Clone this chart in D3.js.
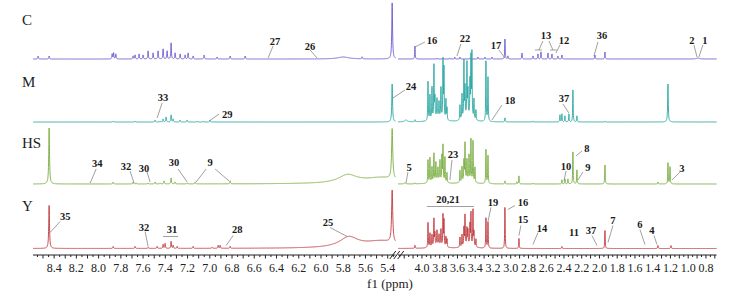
<!DOCTYPE html>
<html>
<head>
<meta charset="utf-8">
<script src="https://cdn.jsdelivr.net/npm/d3@7"></script>
<style>
  body { margin: 0; background: #fff; }
  svg { display: block; }
</style>
</head>
<body>
<div id="chart"></div>
<script>
// Tick labels (ppm) on both sides of the axis break.
const ticksLeft = [8.4, 8.2, 8.0, 7.8, 7.6, 7.4, 7.2, 7.0, 6.8, 6.6, 6.4, 6.2, 6.0, 5.8, 5.6, 5.4];
const ticksRight = [4.0, 3.8, 3.6, 3.4, 3.2, 3.0, 2.8, 2.6, 2.4, 2.2, 2.0, 1.8, 1.6, 1.4, 1.2, 1.0, 0.8];

const panelNames = ["C", "M", "HS", "Y"];
const panelColors = ["#6a5acd", "#2aa7a1", "#78ad3e", "#c0393d"];

// Peaks: [ppm, intensity, half width (ppm, optional)].
const cLeft = [[8.544, 3], [8.445, 3], [7.878, 5], [7.865, 6], [7.845, 5], [7.690, 3], [7.672, 4], [7.636, 5],
  [7.600, 4], [7.555, 8], [7.510, 6], [7.465, 8], [7.420, 10], [7.384, 8], [7.348, 16], [7.312, 6], [7.267, 5],
  [7.222, 4], [7.195, 6], [7.150, 3], [7.051, 4], [6.934, 2], [6.817, 3], [6.682, 3], [5.80, 2, 0.06],
  [5.63, 2], [5.36, 56, 0.004]];
const cRight = [[4.079, 13], [3.83, 1], [3.76, 1], [3.685, 1], [3.63, 2], [3.572, 2], [3.46, 1], [3.37, 2],
  [3.29, 2], [3.211, 2], [3.065, 20], [3.031, 3], [2.873, 6], [2.749, 3], [2.693, 5], [2.659, 7], [2.580, 6],
  [2.535, 5], [2.468, 3], [2.423, 4], [2.051, 4], [1.938, 7], [0.890, 1, 0.02]];

const mLeft = [[7.869, 1], [7.672, 1], [7.492, 2], [7.447, 1], [7.420, 3], [7.393, 5], [7.348, 7], [7.330, 3],
  [7.267, 2], [7.204, 2], [7.114, 1], [7.060, 1], [6.997, 2], [5.36, 38, 0.004]];
const mRight = [[4.18, 2, 0.015], [4.079, 2],
  [3.932, 39], [3.910, 25], [3.887, 32], [3.865, 53], [3.854, 20], [3.831, 18], [3.808, 15], [3.786, 30],
  [3.763, 58], [3.752, 50], [3.730, 20], [3.718, 12], [3.82, 5, 0.05],
  [3.572, 15], [3.549, 25], [3.527, 57], [3.515, 30], [3.493, 53], [3.482, 25], [3.459, 35], [3.448, 58],
  [3.437, 64], [3.414, 20], [3.392, 10], [3.48, 5, 0.05],
  [3.279, 60], [3.256, 44],
  [3.065, 4], [2.749, 1], [2.445, 7], [2.423, 8], [2.389, 6], [2.344, 8], [2.299, 32], [2.254, 6],
  [1.938, 1], [1.228, 38, 0.004]];

const hsLeft = [[8.445, 56, 0.004], [7.869, 2], [7.690, 2], [7.663, 1], [7.555, 1], [7.492, 2], [7.447, 1],
  [7.411, 3], [7.348, 6], [7.312, 2], [7.204, 1], [7.132, 2], [6.817, 3], [5.76, 8, 0.1], [5.45, 6, 0.2],
  [5.36, 50, 0.006]];
const hsRight = [[4.192, 1, 0.01], [4.079, 1],
  [3.932, 23], [3.910, 25], [3.887, 15], [3.865, 28], [3.843, 18], [3.820, 12], [3.797, 20], [3.775, 25],
  [3.763, 36], [3.741, 25], [3.718, 10], [3.82, 4, 0.05],
  [3.572, 12], [3.549, 15], [3.527, 20], [3.515, 37], [3.493, 20], [3.470, 25], [3.448, 42], [3.425, 41],
  [3.403, 15], [3.49, 4, 0.05],
  [3.279, 34], [3.256, 28],
  [3.065, 3], [2.930, 2], [2.907, 8], [2.749, 1], [2.423, 4], [2.389, 5], [2.355, 5], [2.299, 32],
  [2.254, 14], [1.938, 19], [1.341, 2], [1.228, 21], [1.205, 17]];

const yLeft = [[8.445, 43, 0.004], [7.869, 2], [7.672, 2], [7.555, 1], [7.474, 2], [7.420, 4], [7.402, 5],
  [7.348, 7], [7.330, 3], [7.294, 2], [7.150, 2], [6.979, 1], [6.925, 3], [6.907, 3], [6.817, 2],
  [5.75, 10, 0.1], [5.45, 7, 0.2], [5.36, 52, 0.006]];
const yRight = [[4.079, 3],
  [3.932, 25], [3.910, 14], [3.887, 12], [3.865, 27], [3.854, 12], [3.831, 14], [3.808, 10], [3.786, 16],
  [3.763, 31], [3.752, 26], [3.730, 10], [3.718, 8], [3.82, 4, 0.05],
  [3.572, 10], [3.549, 12], [3.527, 18], [3.515, 30], [3.493, 16], [3.482, 14], [3.459, 20], [3.448, 32],
  [3.425, 36], [3.414, 14], [3.392, 8], [3.48, 4, 0.05],
  [3.279, 30], [3.256, 26],
  [3.065, 41], [2.907, 10], [2.423, 2], [1.938, 18], [1.341, 3], [1.194, 3]];

// Annotations: [text, side, ppm, intensity]; leaders: [side, ppm1, int1, ppm2, int2].
const cLabels = [["27", "L", 6.413, 18], ["26", "L", 6.098, 13], ["16", "R", 3.887, 19], ["22", "R", 3.515, 21],
  ["17", "R", 3.166, 14], ["13", "R", 2.603, 24], ["12", "R", 2.400, 19], ["36", "R", 1.972, 24],
  ["2", "R", 0.958, 19], ["1", "R", 0.811, 19]];
const cLeaders = [["L", 6.431, 13, 6.476, 1], ["L", 6.098, 9, 6.035, 1], ["R", 3.966, 17, 4.079, 12],
  ["R", 3.561, 15, 3.606, 3], ["R", 3.132, 9, 3.065, 1], ["R", 2.637, 18, 2.682, 9], ["R", 2.727, 9, 2.648, 9],
  ["R", 2.569, 18, 2.524, 9], ["R", 2.558, 9, 2.479, 9], ["R", 2.445, 14, 2.490, 6], ["R", 2.017, 17, 2.062, 3],
  ["R", 0.935, 14, 0.901, 2], ["R", 0.834, 14, 0.879, 2]];

const mLabels = [["33", "L", 7.420, 25], ["29", "L", 6.844, 8], ["24", "R", 4.124, 36], ["18", "R", 3.008, 22],
  ["37", "R", 2.400, 24]];
const mLeaders = [["L", 7.429, 19, 7.474, 4], ["L", 6.916, 8, 7.006, 1], ["R", 4.192, 32, 4.327, 24],
  ["R", 3.099, 17, 3.211, 2], ["R", 2.411, 18, 2.344, 9]];

const hsLabels = [["34", "L", 8.013, 21], ["32", "L", 7.753, 18], ["30", "L", 7.591, 16], ["30", "L", 7.321, 22],
  ["9", "L", 6.997, 22], ["5", "R", 4.146, 17], ["23", "R", 3.651, 30], ["10", "R", 2.377, 18],
  ["8", "R", 2.141, 36], ["9", "R", 2.130, 17], ["3", "R", 1.070, 16]];
const hsLeaders = [["L", 8.022, 15, 8.076, 1], ["L", 7.717, 13, 7.681, 1], ["L", 7.564, 12, 7.537, 2],
  ["L", 7.285, 15, 7.204, 2], ["L", 7.033, 15, 7.123, 2], ["L", 6.952, 15, 6.826, 3], ["R", 4.158, 12, 4.180, 1],
  ["R", 3.662, 24, 3.685, 4], ["R", 2.377, 13, 2.400, 3], ["R", 2.197, 33, 2.265, 28],
  ["R", 2.186, 12, 2.242, 4], ["R", 1.093, 12, 1.183, 4]];

const yLabels = [["35", "L", 8.301, 32], ["32", "L", 7.591, 21], ["31", "L", 7.339, 19], ["28", "L", 6.754, 19],
  ["25", "L", 5.936, 26], ["20,21", "R", 3.707, 49], ["19", "R", 3.200, 46], ["16", "R", 2.862, 46],
  ["15", "R", 2.862, 29], ["14", "R", 2.648, 20], ["11", "R", 2.287, 16], ["37", "R", 2.096, 18],
  ["7", "R", 1.848, 28], ["6", "R", 1.544, 24], ["4", "R", 1.408, 18]];
const yLeaders = [["L", 8.346, 27, 8.436, 16], ["L", 7.582, 17, 7.555, 2], ["L", 7.420, 12, 7.285, 12],
  ["L", 6.790, 13, 6.853, 3], ["L", 5.918, 21, 5.765, 12], ["R", 3.944, 42, 3.414, 42],
  ["R", 3.223, 41, 3.256, 27], ["R", 2.952, 43, 3.031, 39], ["R", 2.885, 23, 2.907, 13],
  ["R", 2.693, 16, 2.749, 4], ["R", 2.085, 13, 2.028, 3], ["R", 1.848, 23, 1.904, 6],
  ["R", 1.544, 19, 1.487, 4], ["R", 1.386, 13, 1.352, 4]];

const spectra = [
  { left: cLeft, right: cRight, labels: cLabels, leaders: cLeaders },
  { left: mLeft, right: mRight, labels: mLabels, leaders: mLeaders },
  { left: hsLeft, right: hsRight, labels: hsLabels, leaders: hsLeaders },
  { left: yLeft, right: yRight, labels: yLabels, leaders: yLeaders }
];

// Layout.
const width = 734, height = 293;
const baselines = [59, 122, 184, 248.5];
const axisY = 255;
const leftDomain = [8.59, 5.33], rightDomain = [4.27, 0.68];

const svg = d3.select("#chart").append("svg")
  .attr("width", width)
  .attr("height", height);

const xL = d3.scaleLinear().domain(leftDomain).range([33, 395.5]);
const xR = d3.scaleLinear().domain(rightDomain).range([398, 716.6]);
const xOf = side => side === "L" ? xL : xR;

// Lorentzian line shape summed over the peak list.
function trace(peaks, hi, lo) {
  const grid = d3.range(lo, hi, 0.0012)
    .concat(peaks.map(p => p[0]).filter(p => p >= lo && p <= hi));
  grid.sort((a, b) => b - a);
  return grid.map(p => [p, d3.sum(peaks, q => {
    const w = q[2] || 0.003, d = p - q[0];
    return q[1] * w * w / (d * d + w * w);
  })]);
}

const serif = "'Liberation Serif', 'Times New Roman', serif";

spectra.forEach((s, i) => {
  const y = d3.scaleLinear().domain([0, 60]).range([baselines[i], baselines[i] - 60]);
  const g = svg.append("g");

  [["L", s.left, leftDomain], ["R", s.right, rightDomain]].forEach(([side, peaks, dom]) => {
    const x = xOf(side);
    g.append("path")
      .datum(trace(peaks, dom[0], dom[1]))
      .attr("fill", "none")
      .attr("stroke", panelColors[i])
      .attr("stroke-width", 0.9)
      .attr("d", d3.line().x(d => x(d[0])).y(d => y(d[1])));
  });

  g.selectAll("line.leader")
    .data(s.leaders)
    .enter()
    .append("line")
    .attr("class", "leader")
    .attr("x1", d => xOf(d[0])(d[1]))
    .attr("y1", d => y(d[2]))
    .attr("x2", d => xOf(d[0])(d[3]))
    .attr("y2", d => y(d[4]))
    .attr("stroke", "#888")
    .attr("stroke-width", 0.8);

  g.selectAll("text.peak")
    .data(s.labels)
    .enter()
    .append("text")
    .attr("class", "peak")
    .attr("x", d => xOf(d[1])(d[2]))
    .attr("y", d => y(d[3]))
    .attr("dy", "0.35em")
    .attr("text-anchor", "middle")
    .style("font-family", serif)
    .style("font-size", "10.5px")
    .style("font-weight", "bold")
    .style("fill", "#1a1a1a")
    .text(d => d[0]);

  svg.append("text")
    .attr("x", 22)
    .attr("y", [20, 82, 143, 206][i])
    .attr("dy", "0.35em")
    .style("font-family", serif)
    .style("font-size", "15px")
    .style("fill", "#222")
    .text(panelNames[i]);
});

// Broken x axis.
const axis = svg.append("g");
[[xL, leftDomain, ticksLeft], [xR, rightDomain, ticksRight]].forEach(([x, dom, labels]) => {
  axis.append("line")
    .attr("x1", x(dom[0])).attr("x2", x(dom[1]))
    .attr("y1", axisY).attr("y2", axisY)
    .attr("stroke", "#222").attr("stroke-width", 1);
  const minor = d3.range(Math.round(dom[1] * 20), Math.round(dom[0] * 20) + 1).map(v => v / 20)
    .filter(v => v >= dom[1] && v <= dom[0]);
  axis.selectAll(null)
    .data(minor)
    .enter()
    .append("line")
    .attr("x1", d => x(d)).attr("x2", d => x(d))
    .attr("y1", axisY)
    .attr("y2", d => axisY + (Math.round(d * 20) % 2 === 0 ? 3.5 : 2))
    .attr("stroke", "#222").attr("stroke-width", 1);
  axis.selectAll(null)
    .data(labels)
    .enter()
    .append("text")
    .attr("x", d => x(d))
    .attr("y", axisY + 13)
    .attr("dy", "0.35em")
    .attr("text-anchor", "middle")
    .style("font-family", serif)
    .style("font-size", "12px")
    .style("fill", "#222")
    .text(d => d.toFixed(1));
});

// Break marks.
const bx = (xL(leftDomain[1]) + xR(rightDomain[0])) / 2;
[-4, 0, 4].forEach(o => {
  axis.append("line")
    .attr("x1", bx + o - 3).attr("y1", axisY + 4)
    .attr("x2", bx + o + 3).attr("y2", axisY - 4)
    .attr("stroke", "#222").attr("stroke-width", 1);
});

axis.append("text")
  .attr("x", 390)
  .attr("y", 283)
  .attr("dy", "0.35em")
  .attr("text-anchor", "middle")
  .style("font-family", serif)
  .style("font-size", "13px")
  .style("fill", "#222")
  .text("f1 (ppm)");
</script>
</body>
</html>
